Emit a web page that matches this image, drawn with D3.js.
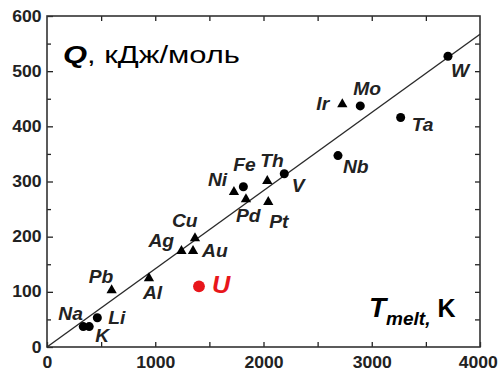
<!DOCTYPE html>
<html>
<head>
<meta charset="utf-8">
<script src="https://cdn.jsdelivr.net/npm/d3@7"></script>
<style>
  html, body { margin: 0; padding: 0; background: #fff; }
  svg { display: block; font-family: "Liberation Sans", Arial, sans-serif; }
</style>
</head>
<body>
<svg width="498" height="373"></svg>
<script>
// data
const elements = ["W", "Mo", "Ir", "Ta", "Nb", "V", "Th", "Fe", "Ni", "Pd", "Pt", "Cu", "Ag", "Au", "Al", "U", "Pb", "Li", "Na", "K"];
const tMelt   = [3704, 2894, 2728, 3267, 2688, 2192, 2035, 1814, 1727, 1838, 2044, 1367, 1242, 1349, 942, 1404, 597, 465, 335, 390];
const qValues = [527, 437, 440, 416, 347, 314, 301, 290.5, 281, 268, 263, 197, 174, 174, 124.5, 110, 103, 53, 37, 37];
const shapes  = ["c", "c", "t", "c", "c", "c", "t", "c", "t", "t", "t", "t", "t", "t", "t", "c", "t", "c", "c", "c"];
const fitT = [0, 4000];
const fitQ = [0, 567];
const xTicks = [0, 1000, 2000, 3000, 4000];
const yTicks = [0, 100, 200, 300, 400, 500, 600];

// label offsets in pixels from each point
const labelDx = [3, -7, -26, 11, 5, 7.5, -7, -10, -26, -10, 1, -23, -33, 9, -6, 13, -23, 11, -25, 6];
const labelDy = [21, -11, 6, 13, 17, 18, -14, -16, -6, 23, 26, -11, -4, 6, 21, 7, -7, 6, -7, 15];

const svg = d3.select("svg");
const ink = "#222";
const stretch = 1.1;

const x = d3.scaleLinear().domain([0, 4000]).range([47, 480]);
const y = d3.scaleLinear().domain([0, 600]).range([347, 16]);

// ticks, all pointing inwards
function tickAxis(axis, translate, opts) {
  const g = svg.append("g").attr("transform", translate).call(axis);
  g.select(".domain").remove();
  g.selectAll("line").attr("stroke", ink).attr("stroke-width", 1.3);
  g.selectAll("text")
    .attr("font-size", 16).attr("font-weight", "bold").attr("fill", ink)
    .attr("font-family", "Liberation Sans, Arial, sans-serif");
  if (opts && opts.stretch) {
    g.selectAll("text").attr("transform", `scale(${stretch},1)`);
  }
  return g;
}

const xAxisG = tickAxis(d3.axisBottom(x).tickValues(xTicks).tickSizeInner(-5).tickSizeOuter(0).tickPadding(10).tickFormat(d3.format("d")),
  "translate(0,347)", { stretch: true });
// keep the last label inside the page
xAxisG.selectAll("text").filter(d => d === 4000).attr("dx", -2);

tickAxis(d3.axisBottom(x).tickValues([500, 1500, 2500, 3500]).tickSizeInner(-5).tickSizeOuter(0).tickFormat(""),
  "translate(0,347)");
tickAxis(d3.axisTop(x).tickValues(d3.range(500, 4000, 500)).tickSizeInner(-5).tickSizeOuter(0).tickFormat(""),
  "translate(0,16)");

tickAxis(d3.axisLeft(y).tickValues(yTicks).tickSizeInner(-6).tickSizeOuter(0).tickPadding(5).tickFormat(d3.format("d")),
  "translate(47,0)", { stretch: true });
tickAxis(d3.axisLeft(y).tickValues(d3.range(50, 600, 100)).tickSizeInner(-4).tickSizeOuter(0).tickFormat(""),
  "translate(47,0)");
tickAxis(d3.axisRight(y).tickValues(d3.range(50, 600, 50)).tickSizeInner(-5).tickSizeOuter(0).tickFormat(""),
  "translate(480,0)");

// frame
svg.append("rect")
  .attr("x", x(0)).attr("y", y(600))
  .attr("width", x(4000) - x(0)).attr("height", y(0) - y(600))
  .attr("fill", "none").attr("stroke", "#333").attr("stroke-width", 1.6);

// fit line
svg.append("path")
  .datum(d3.zip(fitT, fitQ))
  .attr("d", d3.line().x(d => x(d[0])).y(d => y(d[1])))
  .attr("fill", "none").attr("stroke", "#2a2a2a").attr("stroke-width", 1.4);

// points
const pts = elements.map((name, i) => ({
  name, t: tMelt[i], q: qValues[i], shape: shapes[i], dx: labelDx[i], dy: labelDy[i]
}));
const red = "#e8161b";
const colorOf = d => d.name === "U" ? red : "#000";

svg.append("g").selectAll("path")
  .data(pts)
  .join("path")
  .attr("transform", d => `translate(${x(d.t)},${y(d.q)})`)
  .attr("d", d => d3.symbol()
    .type(d.shape === "c" ? d3.symbolCircle : d3.symbolTriangle)
    .size(d.name === "U" ? 110 : (d.shape === "c" ? 64 : 46))())
  .attr("fill", colorOf);

svg.append("g").selectAll("text")
  .data(pts)
  .join("text")
  .attr("transform", d => `translate(${x(d.t) + d.dx},${y(d.q) + d.dy}) scale(${stretch},1)`)
  .attr("font-size", d => d.name === "U" ? 23 : 17.5)
  .attr("font-weight", "bold")
  .attr("font-style", "italic")
  .attr("fill", d => d.name === "U" ? red : ink)
  .text(d => d.name);

// axis titles
const qTitle = svg.append("text")
  .attr("x", 63).attr("y", 63)
  .attr("font-size", 23).attr("fill", "#000")
  .attr("textLength", 177).attr("lengthAdjust", "spacingAndGlyphs");
qTitle.append("tspan").attr("font-weight", "bold").attr("font-style", "italic").text("Q");
qTitle.append("tspan").text(", кДж/моль");

const tTitle = svg.append("text")
  .attr("x", 369).attr("y", 317)
  .attr("font-weight", "bold").attr("fill", "#000");
tTitle.append("tspan").attr("font-size", 28).attr("font-style", "italic").text("T");
tTitle.append("tspan").attr("font-size", 19).attr("font-style", "italic").attr("dy", 8).text("melt,");
tTitle.append("tspan").attr("font-size", 25).attr("dy", -8).text(" K");
</script>
</body>
</html>
